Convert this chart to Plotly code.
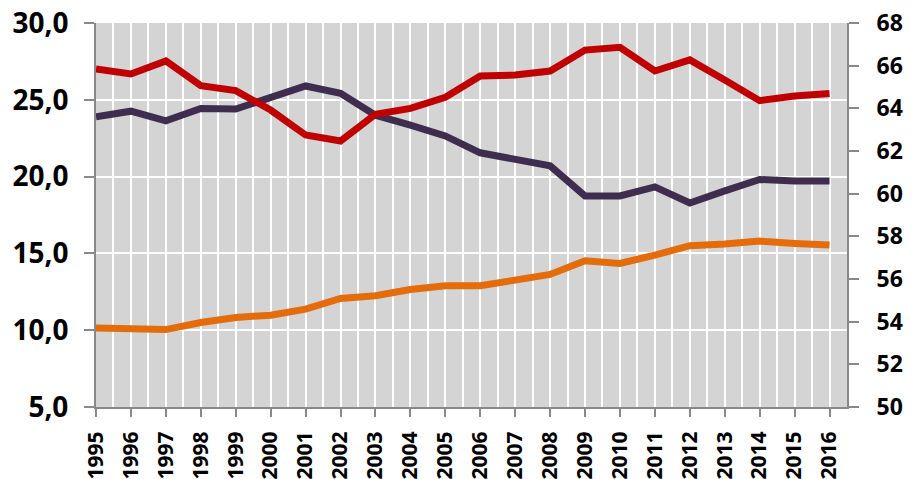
import plotly.graph_objects as go

years = list(range(1995, 2017))

# left axis series
purple_vals = [23.9, 24.26, 23.63, 24.44, 24.4, 25.13, 25.9, 25.42, 24.0, 23.35, 22.65,
               21.55, 21.18, 20.7, 18.74, 18.74, 19.33, 18.28, 19.07, 19.81, 19.72, 19.72]
orange_vals = [10.15, 10.04, 10.04, 10.5, 10.83, 10.98, 11.37, 12.07, 12.24, 12.65, 12.89,
               12.89, 13.26, 13.63, 14.52, 14.35, 14.89, 15.5, 15.61, 15.8, 15.65, 15.54]
# right axis series
red_vals = [65.84, 65.61, 66.22, 65.06, 64.83, 63.92, 62.75, 62.47, 63.72, 64.0, 64.52,
            65.52, 65.56, 65.75, 66.73, 66.86, 65.75, 66.27, 65.33, 64.36, 64.58, 64.7]

AX = "#898989"
FONT = "Open Sans"

fig = go.Figure()
fig.add_trace(go.Scatter(x=years, y=purple_vals, mode="lines", yaxis="y",
                         line=dict(color="#3F2D4F", width=7), showlegend=False))
fig.add_trace(go.Scatter(x=years, y=orange_vals, mode="lines", yaxis="y",
                         line=dict(color="#E46C0A", width=7), showlegend=False))
fig.add_trace(go.Scatter(x=years, y=red_vals, mode="lines", yaxis="y2",
                         line=dict(color="#C00000", width=7), showlegend=False))

# page body has an 8px margin, so the figure is sized/placed to compensate
fig.update_layout(
    width=905, height=471,
    margin=dict(l=88, r=66, t=15, b=72, pad=0),
    paper_bgcolor="white",
    plot_bgcolor="#D4D4D4",
    separators=",.",
    xaxis=dict(
        range=[1995, 2016.5], tickmode="linear", tick0=1995, dtick=1,
        tickangle=-90, ticks="outside", ticklen=8, tickcolor=AX, tickwidth=2,
        showline=True, linecolor=AX, linewidth=2, automargin=False,
        showgrid=True, gridcolor="white", gridwidth=2, zeroline=False,
        minor=dict(dtick=0.5, tick0=1995, showgrid=True, gridcolor="white", gridwidth=2),
        tickfont=dict(family=FONT, size=21, color="black", weight="bold"),
        ticklabelstandoff=6, ticklabeloverflow="allow",
    ),
    yaxis=dict(
        range=[5, 30], tickmode="linear", tick0=5, dtick=5, tickformat=".1f",
        ticks="outside", ticklen=10, tickcolor=AX, tickwidth=2,
        showline=True, linecolor=AX, linewidth=2, automargin=False,
        showgrid=True, gridcolor="white", gridwidth=2, zeroline=False,
        tickfont=dict(family=FONT, size=28, color="black", weight="bold"),
        ticklabelstandoff=10, ticklabeloverflow="allow",
    ),
    yaxis2=dict(
        range=[50, 68], tickmode="linear", tick0=50, dtick=2, tickformat="d",
        overlaying="y", side="right",
        ticks="outside", ticklen=10, tickcolor=AX, tickwidth=2,
        showline=True, linecolor=AX, linewidth=2, automargin=False,
        showgrid=False, zeroline=False,
        tickfont=dict(family=FONT, size=23, color="black", weight="bold"),
        ticklabelstandoff=13, ticklabeloverflow="allow",
    ),
)

fig.write_html("out.html")
